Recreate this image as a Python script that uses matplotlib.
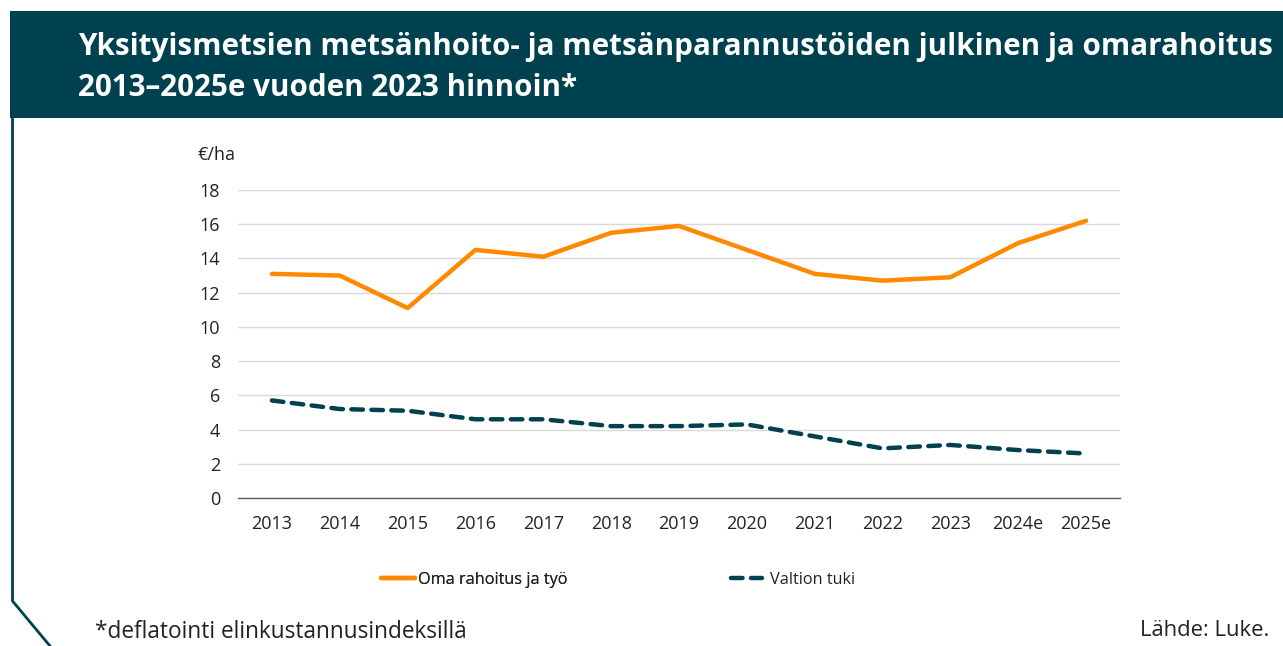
import matplotlib.pyplot as plt
from matplotlib.lines import Line2D

# Data
years = ['2013', '2014', '2015', '2016', '2017', '2018', '2019',
         '2020', '2021', '2022', '2023', '2024e', '2025e']
oma_rahoitus = [13.1, 13.0, 11.1, 14.5, 14.1, 15.5, 15.9,
                14.5, 13.1, 12.7, 12.9, 14.9, 16.2]
valtion_tuki = [5.7, 5.2, 5.1, 4.6, 4.6, 4.2, 4.2,
                4.3, 3.6, 2.9, 3.1, 2.8, 2.6]
y_ticks = [0, 2, 4, 6, 8, 10, 12, 14, 16, 18]

teal = '#00414F'
orange = '#FF8A00'

plt.rcParams['font.family'] = ['Open Sans', 'DejaVu Sans']

fig = plt.figure(figsize=(12.83, 6.46), dpi=100)
W, H = 1283, 646

# Header band
band = fig.add_axes([10 / W, 1 - 118 / H, 1 - 10 / W, 107 / H])
band.set_facecolor(teal)
band.set_xticks([])
band.set_yticks([])
for s in band.spines.values():
    s.set_visible(False)
fig.text(78 / W, 1 - 47 / H, 'Yksityismetsien metsänhoito- ja metsänparannustöiden julkinen ja omarahoitus',
         color='white', fontsize=21.3, fontweight='bold', va='center', ha='left')
fig.text(78 / W, 1 - 88 / H, '2013\u20132025e vuoden 2023 hinnoin*',
         color='white', fontsize=21.3, fontweight='bold', va='center', ha='left')

# Left frame line with the diagonal corner
fig.add_artist(Line2D([12.5 / W, 12.5 / W, 50 / W], [1 - 118 / H, 1 - 601 / H, 1 - 646 / H],
                      color=teal, lw=2, transform=fig.transFigure))

# Plot area
ax = fig.add_axes([238 / W, 1 - 498 / H, (1120 - 238) / W, (498 - 190) / H])
x = range(len(years))
l1, = ax.plot(x, oma_rahoitus, color=orange, lw=3.2, solid_capstyle='round',
              solid_joinstyle='round', label='Oma rahoitus ja työ', zorder=3)
l2, = ax.plot(x, valtion_tuki, color=teal, lw=3.2, dashes=(2.6, 1.9), dash_capstyle='round',
              label='Valtion tuki', zorder=3)

ax.set_xlim(-0.5, len(years) - 0.5)
ax.set_ylim(0, 18)
ax.set_yticks(y_ticks)
ax.set_xticks(list(x))
ax.set_xticklabels(years)
ax.tick_params(axis='both', length=0, labelsize=13, colors='#222222')
ax.tick_params(axis='x', pad=12)
ax.tick_params(axis='y', pad=13)
ax.grid(axis='y', color='#D9D9D9', lw=1)
ax.set_axisbelow(True)
for side in ['top', 'right', 'left']:
    ax.spines[side].set_visible(False)
ax.spines['bottom'].set_color('#595959')
ax.spines['bottom'].set_linewidth(1)

fig.text(198 / W, 1 - 155 / H, '\u20ac/ha', fontsize=13, color='#222222', va='center', ha='left')

# Legend entries placed one by one
leg1 = fig.legend(handles=[l1], loc='center left', bbox_to_anchor=(381 / W, 1 - 580 / H),
                  frameon=False, fontsize=11.7, handlelength=2.1, handletextpad=0.2,
                  borderpad=0, borderaxespad=0)
leg2 = fig.legend(handles=[l2], loc='center left', bbox_to_anchor=(731 / W, 1 - 580 / H),
                  frameon=False, fontsize=11.7, handlelength=1.9, handletextpad=0.5,
                  borderpad=0, borderaxespad=0)
fig.add_artist(leg1)
for leg in (leg1, leg2):
    for t in leg.get_texts():
        t.set_color('#222222')

fig.text(95 / W, 1 - 632 / H, '*deflatointi elinkustannusindeksillä', fontsize=16.3,
         color='#222222', va='center', ha='left')
fig.text(1140 / W, 1 - 630 / H, 'Lähde: Luke.', fontsize=15.8,
         color='#222222', va='center', ha='left')

fig.savefig('out.png', dpi=100)
